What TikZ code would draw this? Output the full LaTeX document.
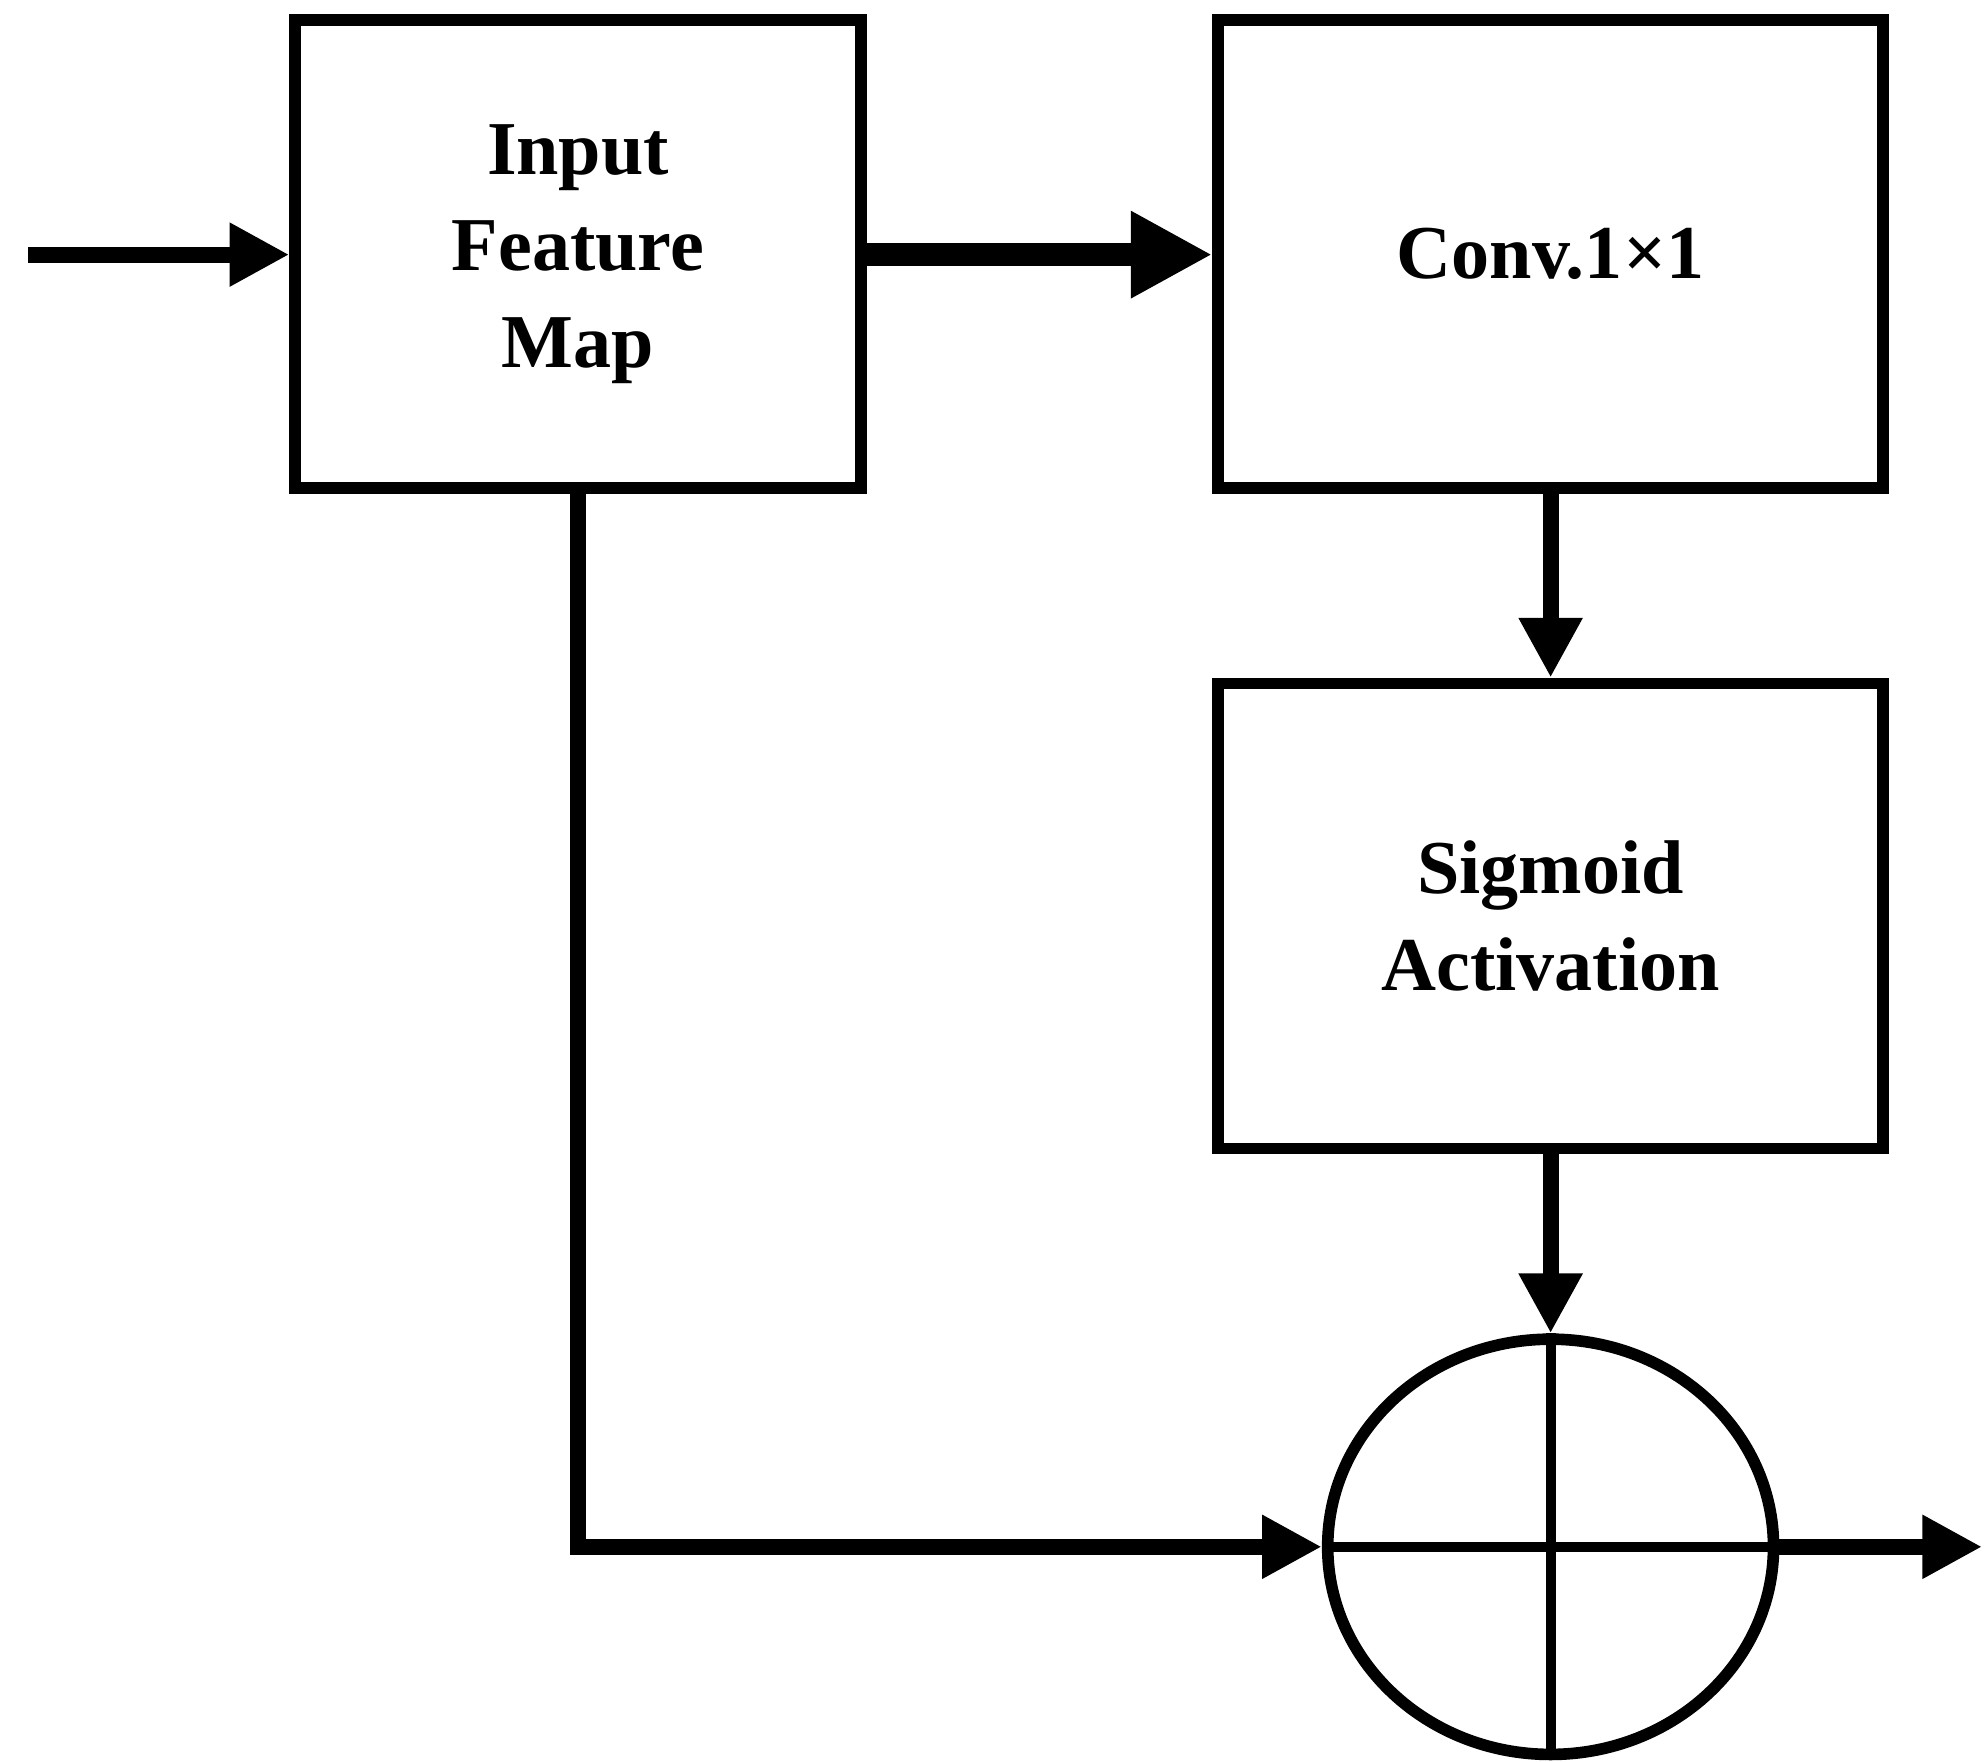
\documentclass[tikz,border=0pt]{standalone}
\usepackage{fontspec}
\setmainfont{Liberation Serif}
\usetikzlibrary{arrows.meta,shapes.geometric}
\begin{document}
\begin{tikzpicture}[x=0.01cm,y=-0.01cm,
  box/.style={draw,line width=2.6pt,minimum width=4.44cm,minimum height=3.67cm,inner sep=0pt,
    font=\fontsize{17}{21.5}\selectfont\bfseries,align=center},
  arr/.style={line width=3.6pt,-{Triangle[length=0.47cm,width=0.47cm]}},
  big/.style={line width=5.3pt,-{Triangle[length=0.64cm,width=0.64cm]}}]
\useasboundingbox (0,0) rectangle (1560,1384);
\node[box] (in) at (454,199.5) {Input\\Feature\\Map};
\node[box,minimum width=5.22cm] (conv) at (1218,199.5) {Conv.1×1};
\node[box,minimum width=5.22cm,minimum height=3.65cm] (sig) at (1218,719.5) {Sigmoid\\Activation};
\node[draw,ellipse,line width=2.6pt,minimum width=3.5cm,minimum height=3.26cm,inner sep=0pt] (sum) at (1218,1215) {};
\draw[line width=2.2pt] (sum.north) -- (sum.south) (sum.west) -- (sum.east);
\coordinate (start) at (22,200);
\coordinate (end) at (1557,1215);
\draw[arr] (start) -- (in.west |- start);
\draw[big] (in.east |- start) -- (conv.west |- start);
\draw[arr] (conv.south) -- (sig.north);
\draw[arr] (sig.south) -- (sum.north);
\draw[arr] (in.south) |- (sum.west);
\draw[arr] (sum.east) -- (end);
\end{tikzpicture}
\end{document}
